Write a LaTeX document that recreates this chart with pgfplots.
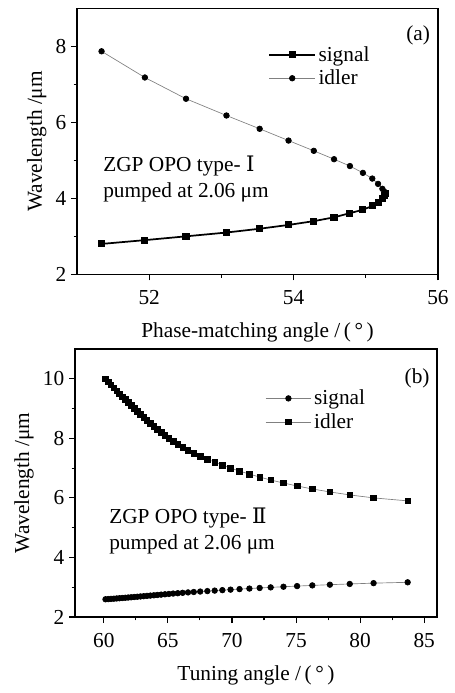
\documentclass[border=0pt]{standalone}
\usepackage{fontspec}
\setmainfont{Liberation Serif}
\newfontfamily\romfont{DejaVu Serif}
\usepackage{pgfplots}
\usepackage{pgfplotstable}
\pgfplotsset{compat=1.18}

% panel (a): phase-matching angle vs wavelength
\pgfplotstableread{
angle  signal idler
51.34  2.80   7.87
51.94  2.90   7.18
52.51  3.00   6.62
53.07  3.10   6.18
53.53  3.20   5.83
53.93  3.30   5.52
54.28  3.40   5.25
54.56  3.50   5.03
54.78  3.61   4.85
54.96  3.70   4.67
55.09  3.80   4.52
55.17  3.90   4.38
55.23  4.00   4.25
55.26  4.07   4.17
55.27  4.12   4.12
}\typeone

% panel (b): tuning angle vs wavelength
\pgfplotstableread{
angle  idler signal
60.13  10.0  2.595
60.34  9.9   2.601
60.56  9.8   2.608
60.78  9.7   2.615
61.00  9.6   2.623
61.22  9.5   2.630
61.44  9.4   2.638
61.67  9.3   2.646
61.90  9.2   2.654
62.13  9.1   2.663
62.37  9.0   2.672
62.61  8.9   2.680
62.86  8.8   2.690
63.11  8.7   2.699
63.37  8.6   2.709
63.63  8.5   2.719
63.90  8.4   2.729
64.18  8.3   2.740
64.47  8.2   2.751
64.77  8.1   2.763
65.08  8.0   2.774
65.41  7.9   2.787
65.77  7.8   2.799
66.15  7.7   2.812
66.57  7.6   2.826
67.02  7.5   2.840
67.52  7.4   2.855
68.08  7.3   2.870
68.65  7.2   2.886
69.25  7.1   2.902
69.89  7.0   2.919
70.59  6.9   2.937
71.36  6.8   2.955
72.16  6.7   2.975
73.02  6.6   2.995
74.02  6.5   3.016
75.08  6.4   3.038
76.27  6.3   3.061
77.64  6.2   3.085
79.19  6.1   3.110
81.05  6.0   3.137
83.71  5.9   3.165
}\typetwo

\pgfplotsset{
  zgp/.style={
    scale only axis, anchor=south west,
    font=\fontsize{16}{19}\selectfont,
    axis line style={line width=0.8pt},
    tick style={black, line width=0.8pt},
    tick align=outside, xtick pos=bottom, ytick pos=left,
    major tick length=4.5pt, minor tick length=2.5pt,
    minor y tick num=1,
    /pgf/number format/assume math mode=true,
    xticklabel style={yshift=-4pt},
    xlabel style={yshift=-7pt},
    ylabel={Wavelength /μm},
    legend cell align=left,
    legend style={draw=none, fill=none, font=\fontsize{16}{19}\selectfont,
      anchor=north west, inner sep=0pt, row sep=1pt},
    legend image code/.code={\draw[mark repeat=2,mark phase=2]
      plot coordinates {(0cm,0cm) (0.6cm,0cm) (1.2cm,0cm)};},
  },
  thinline/.style={gray, line width=0.5pt, mark options={draw=black, fill=black}, mark size=2.1pt},
}

\begin{document}
\begin{tikzpicture}
\useasboundingbox (0pt,0pt) rectangle (340.5pt,519.75pt);

\begin{axis}[zgp,
  at={(57.75pt,314pt)}, width=270.75pt, height=199.5pt,
  xmin=51, xmax=56, ymin=2, ymax=9,
  xtick={52,54,56}, minor x tick num=1,
  ytick={2,4,6,8},
  xlabel={Phase-matching angle /\,(\,°\,)},
  legend style={at={(0.53,0.868)}},
]
\addplot[black, line width=1.3pt, mark=square*, mark size=2pt] table[x=angle, y=signal] {\typeone};
\addlegendentry{signal}
\addplot[thinline, mark=*] table[x=angle, y=idler] {\typeone};
\addlegendentry{idler}
\node at (rel axis cs:0.945,0.9) {(a)};
\node[anchor=north west, align=left, inner sep=0pt] at (rel axis cs:0.072,0.445)
  {ZGP OPO type- {\romfont Ⅰ}\\pumped at 2.06 μm};
\end{axis}

\begin{axis}[zgp,
  at={(56.25pt,57pt)}, width=271.5pt, height=201pt,
  xmin=57.75, xmax=86, ymin=2, ymax=11,
  xtick={60,65,...,85}, minor x tick num=1,
  ytick={2,4,...,10},
  xlabel={Tuning angle /\,(\,°\,)},
  legend style={at={(0.525,0.858)}},
]
\addplot[thinline, mark=*] table[x=angle, y=signal] {\typetwo};
\addlegendentry{signal}
\addplot[thinline, mark=square*] table[x=angle, y=idler] {\typetwo};
\addlegendentry{idler}
\node at (rel axis cs:0.945,0.89) {(b)};
\node[anchor=north west, align=left, inner sep=0pt] at (rel axis cs:0.094,0.407)
  {ZGP OPO type- {\romfont Ⅱ}\\pumped at 2.06 μm};
\end{axis}
\end{tikzpicture}
\end{document}
